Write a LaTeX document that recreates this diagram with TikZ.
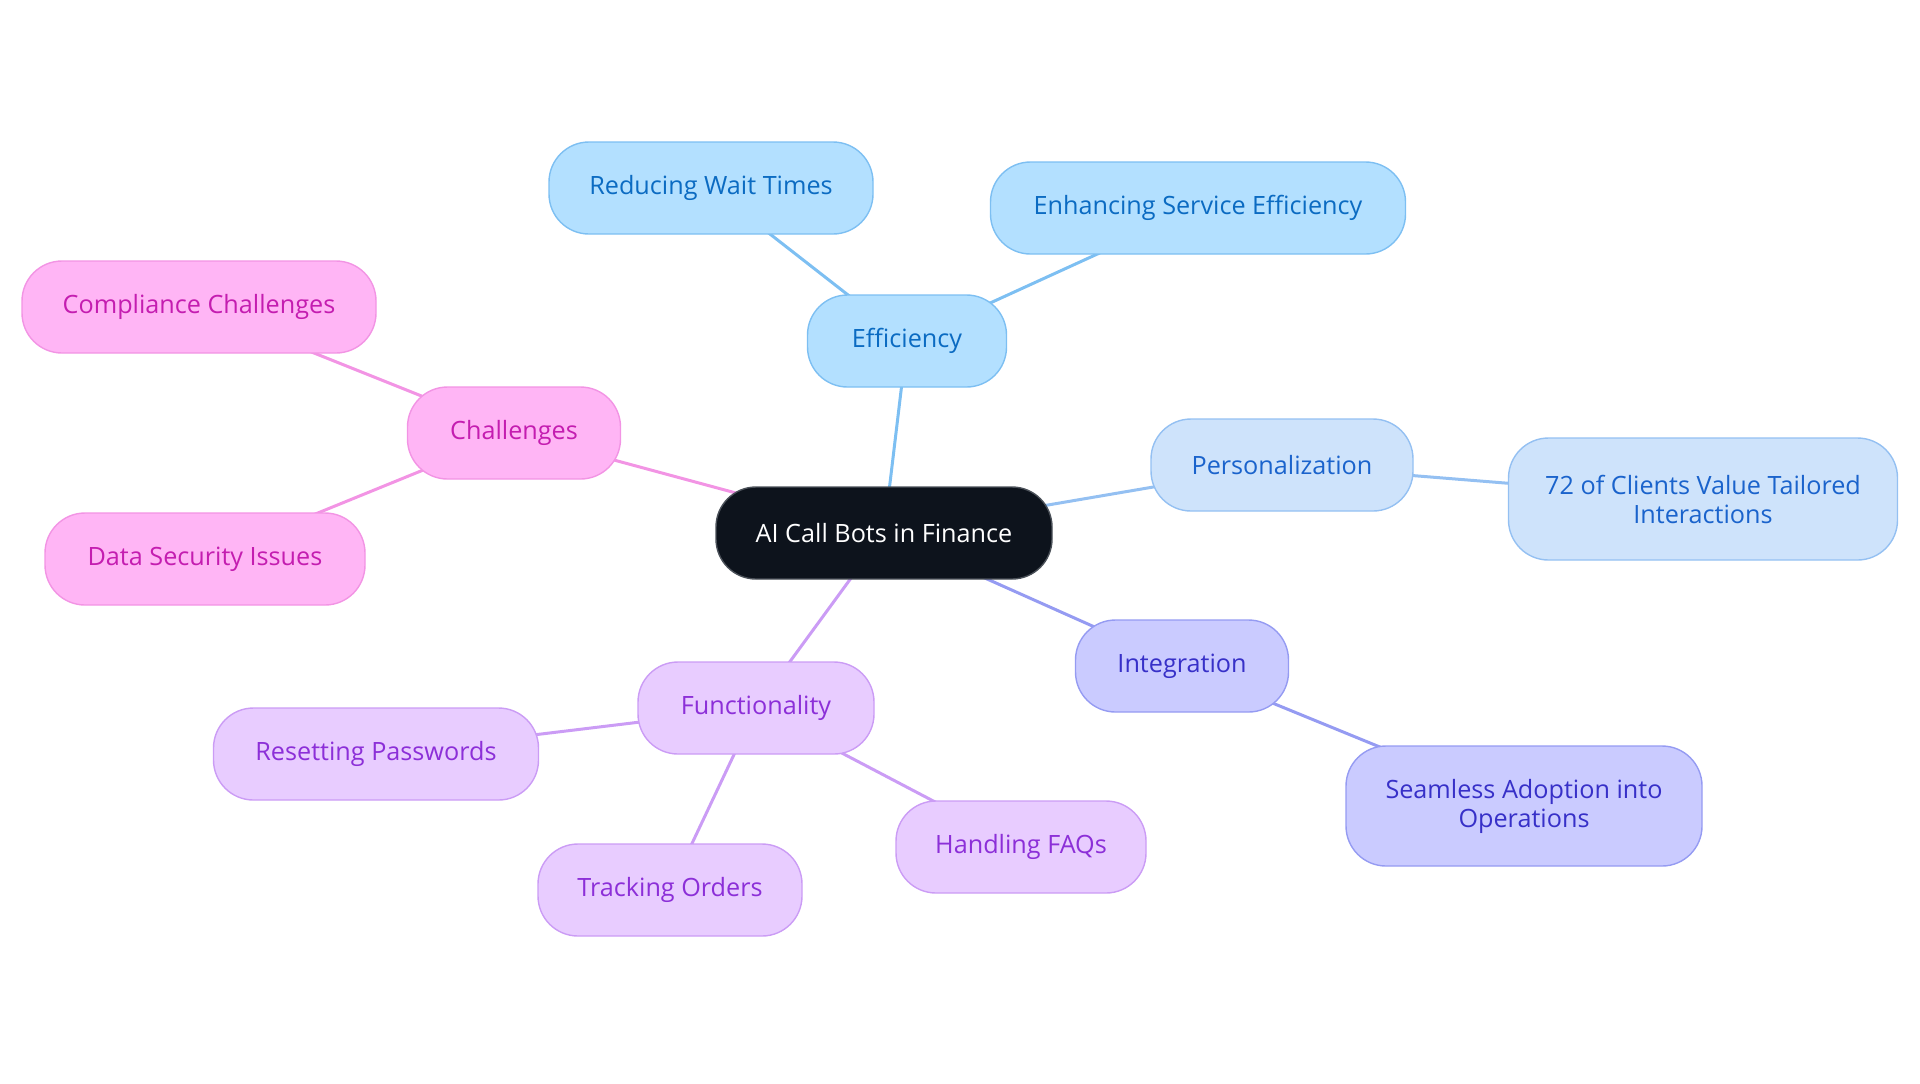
\documentclass[tikz,border=0pt]{standalone}
\usepackage{fontspec}
\setmainfont{Open Sans}
\usepackage{tikz}
\usetikzlibrary{backgrounds}
\definecolor{rootfill}{HTML}{0D131C}
\definecolor{rootline}{HTML}{4A5058}
\definecolor{efffill}{HTML}{B3E0FF}
\definecolor{effline}{HTML}{7DBFF2}
\definecolor{efftext}{HTML}{0B6BC2}
\definecolor{perfill}{HTML}{CEE3FB}
\definecolor{perline}{HTML}{94C0F2}
\definecolor{pertext}{HTML}{1A63CC}
\definecolor{intfill}{HTML}{CACBFF}
\definecolor{intline}{HTML}{959BF2}
\definecolor{inttext}{HTML}{3730C8}
\definecolor{funfill}{HTML}{E8CCFF}
\definecolor{funline}{HTML}{CB9CF5}
\definecolor{funtext}{HTML}{8C2FD8}
\definecolor{chafill}{HTML}{FFB5F5}
\definecolor{chaline}{HTML}{F294E4}
\definecolor{chatext}{HTML}{C41DB0}

\begin{document}
\begin{tikzpicture}[x=0.5pt, y=-0.5pt,
  bubble/.style={draw, rounded corners=20pt, minimum height=46pt, line width=0.7pt, font=\fontsize{12.6}{14.5}\selectfont, align=center},
  effbox/.style={bubble, fill=efffill, draw=effline, text=efftext},
  perbox/.style={bubble, fill=perfill, draw=perline, text=pertext},
  intbox/.style={bubble, fill=intfill, draw=intline, text=inttext},
  funbox/.style={bubble, fill=funfill, draw=funline, text=funtext},
  chabox/.style={bubble, fill=chafill, draw=chaline, text=chatext},
  link/.style={line width=1.5pt}]
\useasboundingbox (0,0) rectangle (1920,1083);
\node[bubble, fill=rootfill, draw=rootline, text=white, minimum width=168pt] (root) at (884,533) {AI Call Bots in Finance};
\node[effbox, minimum width=99.5pt] (eff) at (907,341) {Efficiency};
\node[effbox, minimum width=162pt] (wait) at (711,188) {Reducing Wait Times};
\node[effbox, minimum width=207.5pt] (service) at (1198,208) {Enhancing Service Efficiency};
\node[perbox, minimum width=131pt] (pers) at (1282,465) {Personalization};
\node[perbox, minimum width=194.5pt, minimum height=61pt] (clients) at (1703,499) {72 of Clients Value Tailored\\Interactions};
\node[intbox, minimum width=106.5pt] (integ) at (1182,666) {Integration};
\node[intbox, minimum width=178pt, minimum height=60pt] (adopt) at (1524,806) {Seamless Adoption into\\Operations};
\node[funbox, minimum width=118pt] (func) at (756,708) {Functionality};
\node[funbox, minimum width=162.5pt] (reset) at (376,754) {Resetting Passwords};
\node[funbox, minimum width=132pt] (track) at (670,890) {Tracking Orders};
\node[funbox, minimum width=125pt] (faq) at (1021,847) {Handling FAQs};
\node[chabox, minimum width=106.5pt] (chal) at (514,433) {Challenges};
\node[chabox, minimum width=177pt] (comp) at (199,307) {Compliance Challenges};
\node[chabox, minimum width=160pt] (secur) at (205,559) {Data Security Issues};
\begin{scope}[on background layer]
\draw[link, effline] (root.center) -- (eff.center);
\draw[link, effline] (eff.center) -- (wait.center);
\draw[link, effline] (eff.center) -- (service.center);
\draw[link, perline] (root.center) -- (pers.center);
\draw[link, perline] (pers.center) -- (clients.center);
\draw[link, intline] (root.center) -- (integ.center);
\draw[link, intline] (integ.center) -- (adopt.center);
\draw[link, funline] (root.center) -- (func.center);
\draw[link, funline] (func.center) -- (reset.center);
\draw[link, funline] (func.center) -- (track.center);
\draw[link, funline] (func.center) -- (faq.center);
\draw[link, chaline] (root.center) -- (chal.center);
\draw[link, chaline] (chal.center) -- (comp.center);
\draw[link, chaline] (chal.center) -- (secur.center);
\end{scope}
\end{tikzpicture}
\end{document}
